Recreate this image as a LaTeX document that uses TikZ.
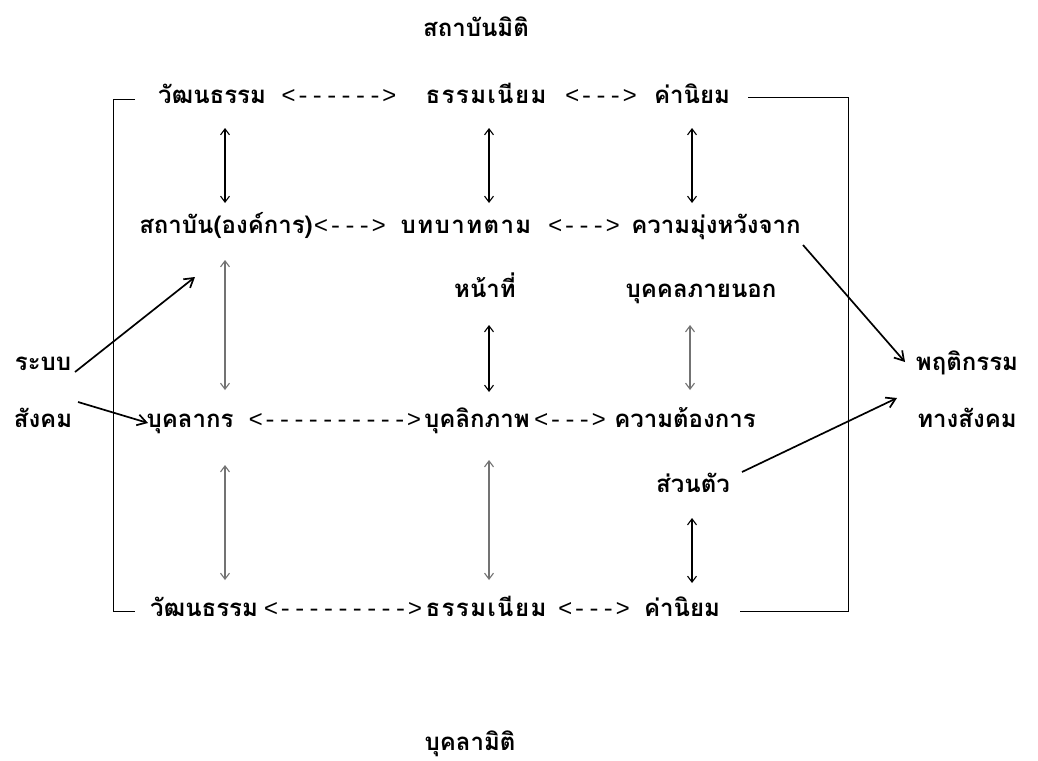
\documentclass[tikz,border=0pt]{standalone}
\usepackage{fontspec}
\newfontfamily\thai[Script=Thai]{Loma}
\newfontfamily\thaiwide[Script=Thai,LetterSpace=6]{Loma}
\newfontfamily\mono{Liberation Mono}
\usetikzlibrary{arrows.meta}
\newcommand\hy{-\kern0pt }
\begin{document}
\begin{tikzpicture}[x=1pt,y=-1pt,
  lbl/.style={font=\thai\bfseries\fontsize{24}{28}\selectfont, inner sep=0pt, anchor=base},
  lblw/.style={lbl, font=\thaiwide\bfseries\fontsize{24}{28}\selectfont},
  dsh/.style={font=\mono\fontsize{24}{28}\selectfont, inner sep=0pt, anchor=base},
  dbl/.style={line width=1.1pt, {Straight Barb[length=6pt,width=9pt]}-{Straight Barb[length=6pt,width=9pt]}},
  dblg/.style={dbl, draw=black!55},
  frame/.style={line width=1pt},
  slant/.style={line width=1.7pt, -{Straight Barb[length=9pt,width=11pt]}}]
\useasboundingbox[fill=white] (0,0) rectangle (1038,760);

% titles
\node[lbl] (t1) at (476,37) {สถาบันมิติ};
\node[lbl] (t2) at (470,750) {บุคลามิติ};

% row 1
\node[lbl] (c1) at (212,103) {วัฒนธรรม};
\node[dsh] (h1) at (339,103) {<\hy\hy\hy\hy\hy\hy>};
\node[lblw] (n1) at (486,103) {ธรรมเนียม};
\node[dsh] (h2) at (601,103) {<\hy\hy\hy>};
\node[lbl] (v1) at (692,103) {ค่านิยม};

% row 2
\node[lbl] (s2) at (226,233) {สถาบัน(องค์การ)};
\node[dsh] (h3) at (350,233) {<\hy\hy\hy>};
\node[lblw] (b2) at (466,233) {บทบาทตาม};
\node[dsh] (h4) at (584,233) {<\hy\hy\hy>};
\node[lbl] (k2) at (716,233) {ความมุ่งหวังจาก};
\node[lbl] (f2) at (485,297) {หน้าที่};
\node[lbl] (o2) at (701,297) {บุคคลภายนอก};

% row 3
\node[lbl] (p3) at (190,427) {บุคลากร};
\node[dsh] (h5) at (335,427) {<\hy\hy\hy\hy\hy\hy\hy\hy\hy\hy>};
\node[lbl] (q3) at (477,427) {บุคลิกภาพ};
\node[dsh] (h6) at (570,427) {<\hy\hy\hy>};
\node[lbl] (r3) at (685,427) {ความต้องการ};
\node[lbl] (u3) at (693,492) {ส่วนตัว};

% row 4
\node[lbl] (c4) at (204,616) {วัฒนธรรม};
\node[dsh] (h7) at (343,616) {<\hy\hy\hy\hy\hy\hy\hy\hy\hy>};
\node[lblw] (n4) at (486,616) {ธรรมเนียม};
\node[dsh] (h8) at (594,616) {<\hy\hy\hy>};
\node[lbl] (v4) at (682,616) {ค่านิยม};

% sides
\node[lbl] (l1) at (43,370) {ระบบ};
\node[lbl] (l2) at (43,427) {สังคม};
\node[lbl] (r1) at (967,370) {พฤติกรรม};
\node[lbl] (r2) at (967,427) {ทางสังคม};

% frame
\coordinate (fa) at (135,99);
\coordinate (fb) at (113,99);
\coordinate (fc) at (113,611);
\coordinate (fd) at (135,611);
\coordinate (ga) at (748,97);
\coordinate (gb) at (848,97);
\coordinate (gc) at (848,611);
\coordinate (gd) at (740,611);
\draw[frame] (fa) -- (fb) -- (fc) -- (fd);
\draw[frame] (ga) -- (gb) -- (gc) -- (gd);

% vertical double arrows
\coordinate (a1t) at (225,128); \coordinate (a1b) at (225,203);
\coordinate (a2t) at (489,128); \coordinate (a2b) at (489,203);
\coordinate (a3t) at (692,128); \coordinate (a3b) at (692,203);
\coordinate (b1t) at (225,260); \coordinate (b1b) at (225,390);
\coordinate (b2t) at (489,325); \coordinate (b2b) at (489,392);
\coordinate (b3t) at (690,325); \coordinate (b3b) at (690,390);
\coordinate (e1t) at (225,465); \coordinate (e1b) at (225,580);
\coordinate (e2t) at (489,460); \coordinate (e2b) at (489,580);
\coordinate (e3t) at (692,518); \coordinate (e3b) at (692,583);
\draw[dbl] (a1t) -- (a1b);
\draw[dbl] (a2t) -- (a2b);
\draw[dbl] (a3t) -- (a3b);
\draw[dblg] (b1t) -- (b1b);
\draw[dbl] (b2t) -- (b2b);
\draw[dblg] (b3t) -- (b3b);
\draw[dblg] (e1t) -- (e1b);
\draw[dblg] (e2t) -- (e2b);
\draw[dbl] (e3t) -- (e3b);

% slanted arrows
\coordinate (m1) at (75,372); \coordinate (m2) at (195,277);
\coordinate (m3) at (78,402); \coordinate (m4) at (148,423);
\coordinate (m5) at (803,245); \coordinate (m6) at (905,362);
\coordinate (m7) at (742,472); \coordinate (m8) at (897,398);
\draw[slant] (m1) -- (m2);
\draw[slant] (m3) -- (m4);
\draw[slant] (m5) -- (m6);
\draw[slant] (m7) -- (m8);
\end{tikzpicture}
\end{document}
